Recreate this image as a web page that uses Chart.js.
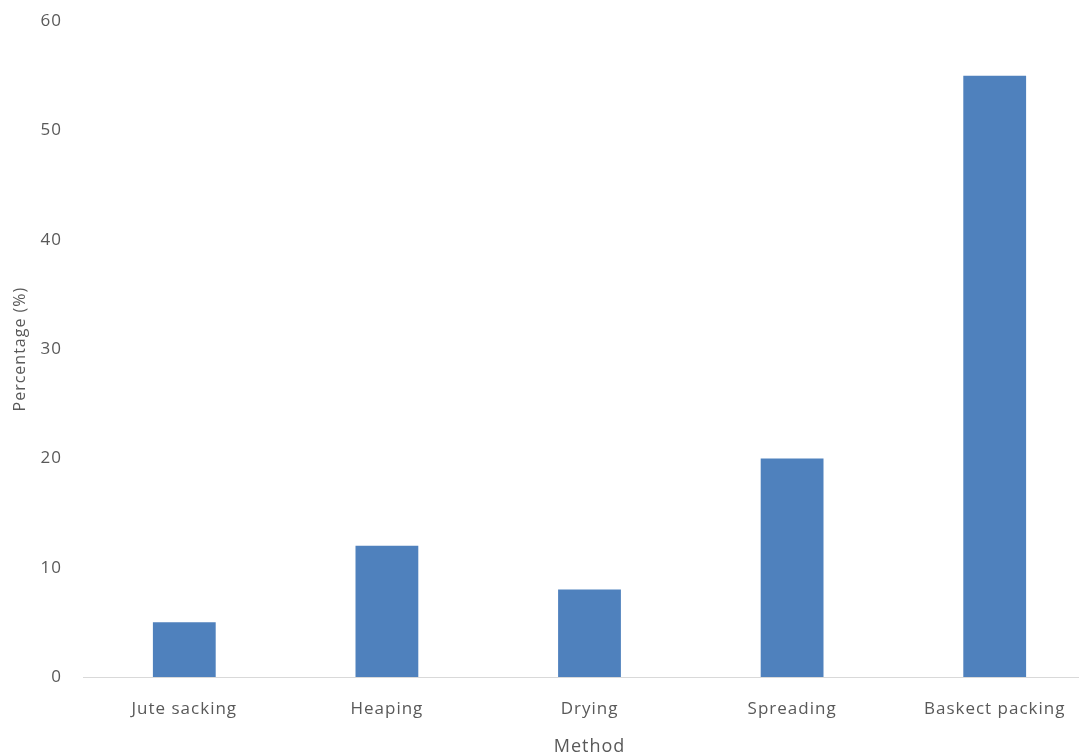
<!DOCTYPE html>
<html lang="en">
<head>
    <meta charset="UTF-8">
    <title>Method Percentage</title>
    <script src="https://cdn.jsdelivr.net/npm/chart.js"></script>
    <style>
        html, body { margin: 0; padding: 0; background: #fff; overflow: hidden; width: 1079px; height: 755px; }
        #wrap { position: absolute; left: 0; top: -2.5px; width: 1110px; height: 790px; }
    </style>
</head>
<body>
    <div id="wrap"><canvas id="barChart"></canvas></div>

    <script>
        // Data
        const methods = ['Jute sacking', 'Heaping', 'Drying', 'Spreading', 'Baskect packing'];
        const percentages = [5, 12, 8, 20, 55];
        const yTicks = [0, 10, 20, 30, 40, 50, 60];

        const textColor = '#595959';
        const font = { family: 'Open Sans', size: 17 };

        // the original text is a bit wider than Open Sans, so space the letters out
        const spacing = {
            id: 'spacing',
            beforeLayout(chart) { chart.ctx.letterSpacing = '1px'; },
            beforeDraw(chart) { chart.ctx.letterSpacing = '1px'; }
        };

        const ctx = document.getElementById('barChart').getContext('2d');
        new Chart(ctx, {
            type: 'bar',
            data: {
                labels: methods,
                datasets: [{
                    label: 'Percentage (%)',
                    data: percentages,
                    backgroundColor: '#4F81BD',
                    barPercentage: 0.31,
                    categoryPercentage: 1
                }]
            },
            plugins: [spacing],
            options: {
                responsive: true,
                maintainAspectRatio: false,
                animation: false,
                layout: { padding: { left: 0, right: 14, top: 1.5, bottom: 26 } },
                plugins: {
                    legend: { display: false },
                    tooltip: { enabled: false }
                },
                scales: {
                    x: {
                        grid: { display: false },
                        border: { display: true, color: '#D9D9D9', width: 1 },
                        ticks: { color: textColor, font: font, padding: 14 },
                        title: { display: true, text: 'Method', color: textColor, font: { family: 'Open Sans', size: 18 }, padding: { top: 3 } }
                    },
                    y: {
                        min: 0,
                        max: 60,
                        afterBuildTicks: function(scale) {
                            scale.ticks = yTicks.map(v => ({ value: v }));
                        },
                        afterFit: function(scale) { scale.width = 83; },
                        grid: { display: false },
                        border: { display: false },
                        ticks: { color: textColor, font: font, padding: 13 },
                        title: { display: true, text: 'Percentage (%)', color: textColor, font: { family: 'Open Sans', size: 16 }, padding: { top: 11, bottom: 0 } }
                    }
                }
            }
        });
    </script>
</body>
</html>
